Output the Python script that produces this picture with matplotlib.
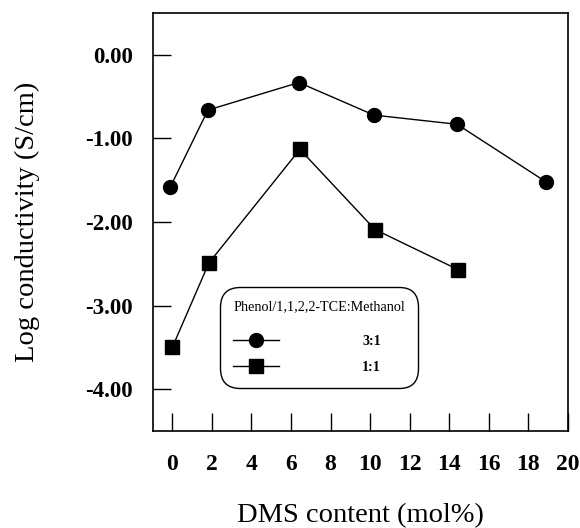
import numpy as np
import matplotlib
matplotlib.use('Agg')
import matplotlib.pyplot as plt

# 数据
dms_31 = [-0.1, 1.8, 6.4, 10.2, 14.4, 18.9]
logc_31 = [-1.58, -0.66, -0.33, -0.72, -0.83, -1.52]

dms_11 = [0.0, 1.85, 6.45, 10.25, 14.45]
logc_11 = [-3.50, -2.49, -1.13, -2.09, -2.57]

x_ticks = [0, 2, 4, 6, 8, 10, 12, 14, 16, 18, 20]
y_ticks = [0.0, -1.0, -2.0, -3.0, -4.0]

legend_title = 'Phenol/1,1,2,2-TCE:Methanol'
labels = ['3:1', '1:1']

plt.rcParams['font.family'] = ['Liberation Serif', 'DejaVu Serif']

fig = plt.figure(figsize=(5.8, 5.28), dpi=100)
ax = fig.add_axes([0.263, 0.184, 0.716, 0.791])

ax.plot(dms_31, logc_31, color='black', linewidth=1.0, marker='o',
        markersize=10, label=labels[0])
ax.plot(dms_11, logc_11, color='black', linewidth=1.0, marker='s',
        markersize=10.5, label=labels[1])

ax.set_xlim(-1, 20)
ax.set_ylim(-4.5, 0.5)

ax.set_xticks(x_ticks)
ax.set_xticklabels([str(t) for t in x_ticks], fontsize=17, fontweight='bold')
ax.set_yticks(y_ticks)
ax.set_yticklabels([f'{t:.2f}' for t in y_ticks], fontsize=16.5, fontweight='bold')

ax.tick_params(axis='both', direction='in', length=13, width=1.0)
ax.tick_params(axis='x', pad=16.5)
ax.tick_params(axis='y', pad=14)
for sp in ax.spines.values():
    sp.set_linewidth(1.2)

ax.set_ylabel('Log conductivity (S/cm)', fontsize=20.5)
ax.yaxis.set_label_coords(-0.272, 0.5)
ax.set_xlabel('DMS content (mol%)', fontsize=20.5)
ax.xaxis.set_label_coords(0.5, -0.172)

leg = ax.legend(loc='upper left', bbox_to_anchor=(0.162, 0.345),
                borderaxespad=0,
                title=legend_title + '\n', title_fontsize=10.2, alignment='left',
                prop={'size': 10.2, 'weight': 'bold'},
                handlelength=3.2, handletextpad=5.9, labelspacing=0.95,
                borderpad=0.95, fancybox=True, edgecolor='black',
                framealpha=1.0)
leg.get_title().set_linespacing(0.5)
leg.get_frame().set_boxstyle('round', pad=0, rounding_size=1.4)
leg.get_frame().set_linewidth(1.0)

fig.savefig('out.png', dpi=100)
